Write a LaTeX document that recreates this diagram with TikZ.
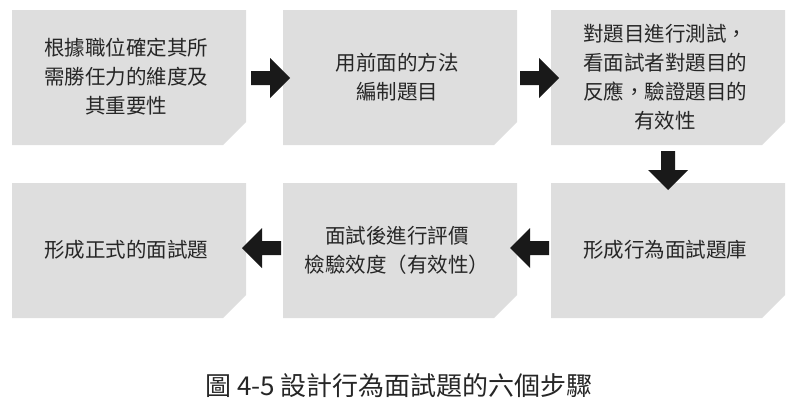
\documentclass[tikz,border=0pt]{standalone}
\usepackage{fontspec}
\setmainfont{Noto Sans CJK TC}
\begin{document}
\begin{tikzpicture}[x=1pt,y=-1pt,
  txt/.style={align=center,font=\fontsize{20.5}{29}\selectfont,text=black!85},
  blk/.style={fill=black!90}]
\useasboundingbox (0,0) rectangle (798,418);
\tikzset{card/.pic={\fill[black!13] (0,0) -- (234,0) -- (234,112) -- (211,135) -- (0,135) -- cycle;}}
\newcommand{\barrow}[3]{\begin{scope}[shift={(#1,#2)},rotate=#3]
  \fill[blk] (-19,-7) -- (0,-7) -- (0,-20) -- (20,0) -- (0,20) -- (0,7) -- (-19,7) -- cycle;\end{scope}}
\pic at (12,10) {card};
\pic at (283,10) {card};
\pic at (551,10) {card};
\pic at (12,183) {card};
\pic at (283,183) {card};
\pic at (551,183) {card};
\node[txt] (a) at (126,77) {根據職位確定其所\\需勝任力的維度及\\其重要性};
\node[txt] (b) at (397,77) {用前面的方法\\編制題目};
\node[txt] (c) at (665,77) {對題目進行測試，\\看面試者對題目的\\反應，驗證題目的\\有效性};
\node[txt] (f) at (665,250) {形成行為面試題庫};
\node[txt] (e) at (397,250) {面試後進行評價\\檢驗效度（有效性）};
\node[txt] (d) at (126,250) {形成正式的面試題};
\barrow{270}{78}{0}
\barrow{539}{78}{0}
\barrow{668}{170}{-90}
\barrow{530}{248}{180}
\barrow{262}{248}{180}
\node[font=\fontsize{26}{30}\selectfont,text=black!85] (cap) at (399,386) {圖 4-5 設計行為面試題的六個步驟};
\end{tikzpicture}
\end{document}
